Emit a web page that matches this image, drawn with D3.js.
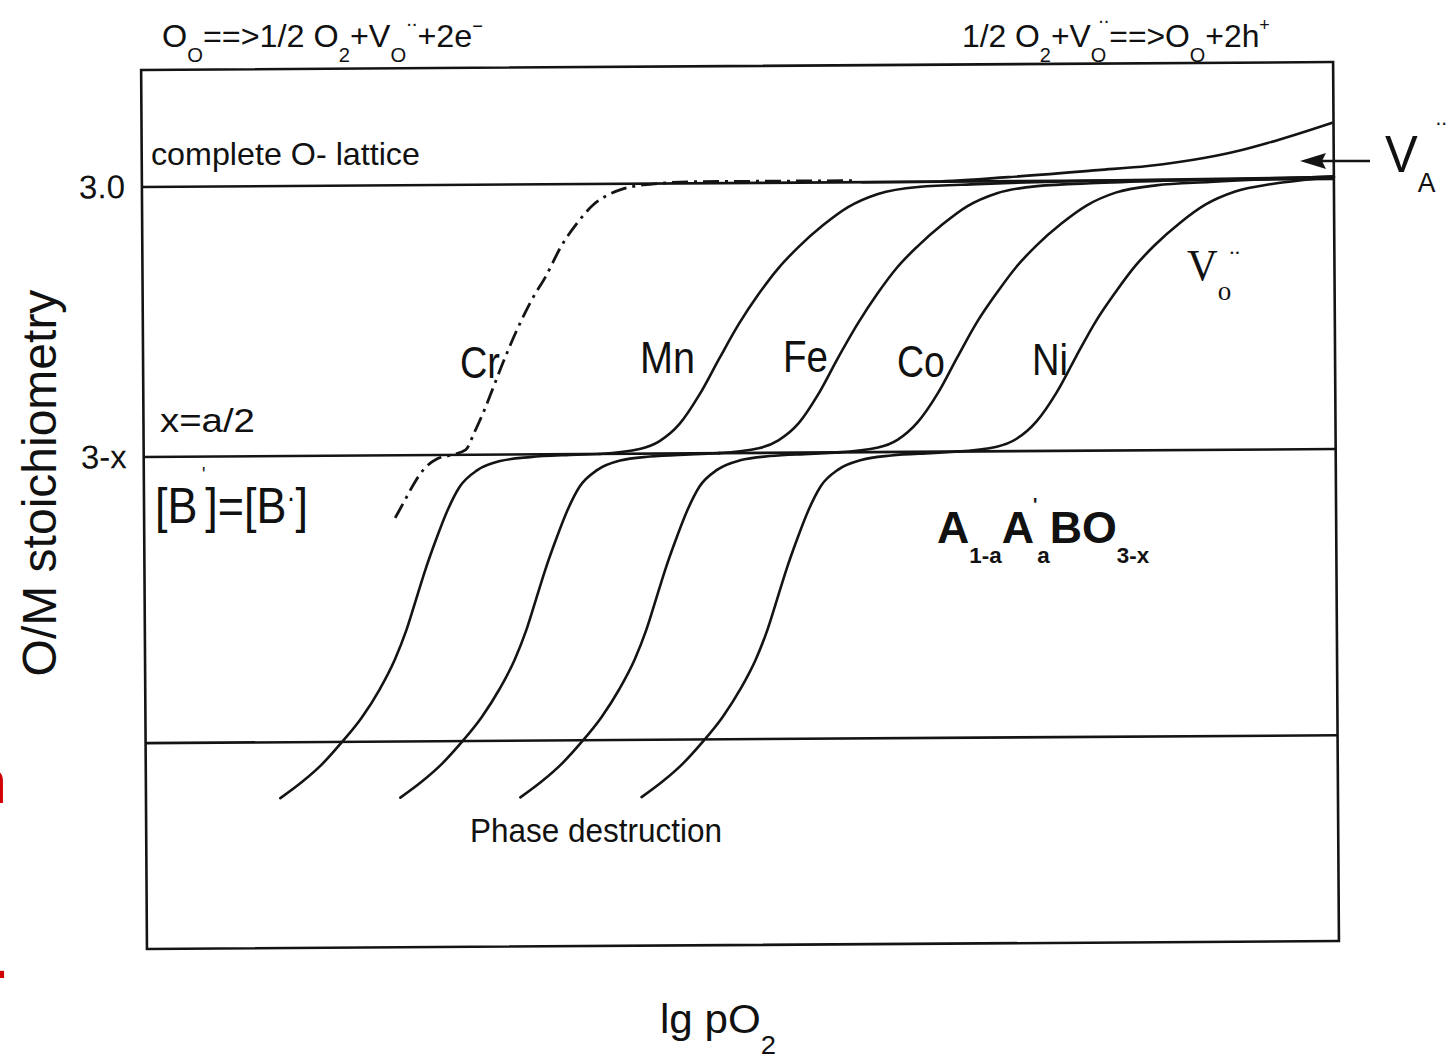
<!DOCTYPE html>
<html>
<head>
<meta charset="utf-8">
<script src="https://cdn.jsdelivr.net/npm/d3@7/dist/d3.min.js"></script>
<style>
  html, body { margin: 0; padding: 0; background: #fff; }
  svg { display: block; }
  text { font-family: "Liberation Sans", Arial, Helvetica, sans-serif; fill: #111; }
</style>
</head>
<body>
<svg id="chart" width="1454" height="1058"></svg>
<script>
// x: lg pO2 (arbitrary units); d: oxygen deficit in units of x (0 = 3.0, 1 = 3-x)
const levelComplete = 0;
const levelBalanced = 1;
const levelDestruction = 2.06;
const yTickValues = [0, 1];
const yTickLabels = ["3.0", "3-x"];

// low-pO2 steps (phase destruction -> 3-x plateau)
const lowerStep1 = [[11.2,2.267],[13.0,2.208],[14.7,2.142],[16.3,2.064],[18.0,1.972],[19.5,1.869],[20.8,1.758],[21.8,1.647],[22.6,1.537],[23.4,1.426],[24.3,1.315],[25.3,1.204],[26.3,1.119],[27.8,1.057],[29.7,1.024],[32.2,1.010],[35.5,1.003],[38.0,1.0]];
const lowerStep2 = [[21.2,2.268],[23.0,2.209],[24.7,2.143],[26.3,2.066],[28.0,1.973],[29.5,1.870],[30.8,1.760],[31.8,1.649],[32.6,1.539],[33.4,1.428],[34.3,1.317],[35.3,1.206],[36.3,1.121],[37.8,1.059],[39.7,1.025],[42.2,1.011],[45.5,1.004],[48.0,1.0]];
const lowerStep3 = [[31.2,2.270],[33.0,2.211],[34.7,2.145],[36.3,2.068],[38.0,1.975],[39.5,1.872],[40.8,1.762],[41.8,1.651],[42.6,1.541],[43.4,1.430],[44.3,1.319],[45.3,1.208],[46.3,1.123],[47.8,1.061],[49.7,1.027],[52.2,1.012],[55.5,1.005],[58.0,1.0]];
const lowerStep4 = [[41.3,2.272],[43.1,2.213],[44.8,2.147],[46.4,2.070],[48.1,1.977],[49.6,1.874],[50.9,1.764],[51.9,1.653],[52.7,1.543],[53.5,1.432],[54.4,1.321],[55.4,1.210],[56.4,1.125],[57.9,1.063],[59.8,1.029],[62.3,1.013],[65.6,1.005],[68.0,1.0]];

// high-pO2 steps (3-x plateau -> complete O lattice), per B cation
const upperMn = [[38.0,1.0],[41.33,0.983],[43.0,0.954],[44.67,0.891],[46.33,0.784],[48.0,0.651],[49.67,0.522],[51.33,0.412],[53.0,0.316],[54.67,0.239],[56.75,0.158],[58.83,0.092],[61.33,0.044],[64.67,0.019],[69.67,0.010],[79.67,0.0],[99.33,-0.006]];
const upperFe = [[47.9,1.0],[51.25,0.983],[52.9,0.954],[54.6,0.891],[56.25,0.784],[57.9,0.651],[59.6,0.522],[61.25,0.412],[62.9,0.316],[64.6,0.239],[66.7,0.158],[68.75,0.092],[71.25,0.044],[74.6,0.019],[79.6,0.009],[88.0,0.0],[99.33,-0.008]];
const upperCo = [[57.8,1.0],[61.2,0.983],[62.85,0.954],[64.5,0.891],[66.2,0.784],[67.85,0.651],[69.5,0.522],[71.2,0.412],[72.85,0.316],[74.5,0.239],[76.6,0.158],[78.7,0.092],[81.2,0.044],[84.5,0.019],[89.0,0.008],[99.33,-0.010]];
const upperNi = [[67.7,1.0],[71.1,0.983],[72.75,0.954],[74.4,0.891],[76.1,0.784],[77.75,0.651],[79.4,0.522],[81.1,0.412],[82.75,0.316],[84.4,0.239],[86.5,0.158],[88.6,0.092],[91.1,0.044],[94.3,0.016],[97.0,0.002],[99.33,-0.008]];

// Cr: dash-dot trace
const crCurve = [[20.92,1.232],[21.75,1.166],[22.58,1.100],[23.42,1.048],[24.42,1.015],[25.67,1.000],[26.83,0.982],[27.58,0.916],[28.42,0.834],[29.25,0.742],[30.08,0.650],[31.17,0.539],[32.42,0.428],[33.67,0.336],[34.83,0.236],[36.33,0.140],[37.58,0.078],[38.83,0.041],[40.08,0.019],[41.75,0.005],[46.33,-0.006],[59.67,-0.006]];

// A-site vacancy branch at high pO2
const vaCurve = [[60.0,0.0],[65.5,0.0],[72.17,-0.015],[79.67,-0.039],[83.83,-0.053],[88.5,-0.081],[91.33,-0.106],[93.83,-0.135],[96.33,-0.168],[99.17,-0.208]];

const metalLabels = ["Cr", "Mn", "Fe", "Co", "Ni"];

const box = { left: 144, right: 1336, top: 66, bottom: 945 };
const x = d3.scaleLinear().domain([0, 99.33]).range([box.left, box.right]);
const y = d3.scaleLinear().domain([-0.4333, 2.8222]).range([box.top, box.bottom]);

const svg = d3.select("#chart");
const ink = "#141414";

// plot body (slightly tilted as in the printed figure)
const plot = svg.append("g").attr("transform", "rotate(-0.38, 740, 500)");

plot.append("rect")
  .attr("x", x(0)).attr("y", y(-0.4333))
  .attr("width", x(99.33) - x(0)).attr("height", y(2.8222) - y(-0.4333))
  .attr("fill", "none").attr("stroke", ink).attr("stroke-width", 2.6);

[levelComplete, levelBalanced, levelDestruction].forEach(v => {
  plot.append("line")
    .attr("x1", x(0)).attr("x2", x(99.33))
    .attr("y1", y(v)).attr("y2", y(v))
    .attr("stroke", ink).attr("stroke-width", 2.6);
});

const line = d3.line().x(d => x(d[0])).y(d => y(d[1])).curve(d3.curveMonotoneX);

[lowerStep1, lowerStep2, lowerStep3, lowerStep4, upperMn, upperFe, upperCo, upperNi, vaCurve].forEach(s => {
  plot.append("path").attr("d", line(s))
    .attr("fill", "none").attr("stroke", ink).attr("stroke-width", 2.6)
    .attr("stroke-linecap", "round");
});

plot.append("path").attr("d", line(crCurve))
  .attr("fill", "none").attr("stroke", ink).attr("stroke-width", 2.8)
  .attr("stroke-dasharray", "16,6,3,6");

const yAxis = d3.axisLeft(y).tickValues(yTickValues)
  .tickFormat((d, i) => yTickLabels[i]).tickSize(0).tickPadding(17);
const ya = plot.append("g").attr("transform", `translate(${x(0)},0)`).call(yAxis);
ya.select(".domain").remove();
ya.selectAll("text").attr("font-family", "Liberation Sans, Arial, sans-serif")
  .style("font-size", "33px").attr("fill", ink);

// ---- text helpers ----
function fit(t, x0, w) {
  const bw = t.node().getBBox().width;
  const s = w / bw;
  t.attr("transform", `translate(${x0},0) scale(${s},1) translate(${-x0},0)`);
}
function rich(g, x0, y0, parts, o) {
  const t = g.append("text").attr("x", x0).attr("y", y0);
  if (o.weight) t.style("font-weight", o.weight);
  if (o.family) t.style("font-family", o.family);
  if (o.fill) t.style("fill", o.fill);
  if (o.anchor) t.attr("text-anchor", o.anchor);
  let cur = 0;
  parts.forEach(p => {
    const [s, size, off, dx] = p;
    const ts = t.append("tspan").text(s).attr("dy", off - cur).style("font-size", size + "px");
    if (dx) ts.attr("dx", dx);
    cur = off;
  });
  if (o.width) fit(t, x0, o.width);
  return t;
}

const ann = svg.append("g");

rich(ann, 162, 47, [["O",32,0],["O",20,15],["==>1/2 O",32,0],["2",20,15],["+V",32,0],["O",20,15],["..",20,-21],["+2e",32,0],["\u2212",18,-15]], { width: 321 });
rich(ann, 962, 47, [["1/2 O",32,0],["2",20,15],["+V",32,0],["O",20,15],["..",20,-24,-8],["==>O",32,0],["O",20,15],["+2h",32,0],["+",18,-16]], { width: 308 });

rich(ann, 151, 165, [["complete O- lattice",32,0]], { width: 269 });
rich(ann, 160, 432, [["x=a/2",34,0]], { width: 95 });
rich(ann, 155, 523, [["[B",50,0],["'",20,-42,5],["]=[B",50,0],["\u00b7",30,-16],["]",50,0]], { width: 153 });

const labelPos = [[460,378,40],[640,373,55],[783,372,45],[897,377,48],[1032,375,36]];
metalLabels.forEach((m, i) => {
  rich(ann, labelPos[i][0], labelPos[i][1], [[m,44,0]], { width: labelPos[i][2] });
});

rich(ann, 470, 842, [["Phase destruction",33,0]], { width: 252 });

rich(ann, 937, 543, [["A",44,0],["1-a",22,20],["A",44,0],["'",18,-32,-1],["a",22,20],["BO",44,0],["3-x",22,20]], { weight: "bold", width: 213 });

rich(ann, 1187, 280, [["V",44,0],["o",28,20],["..",22,-26,-2]], { family: "Liberation Serif, Times New Roman, serif", width: 53 });

rich(ann, 1385, 172, [["V",52,0],["A",28,20],["..",22,-47]], { width: 62 });

// arrow pointing at the V_A branch
ann.append("line").attr("x1", 1370).attr("x2", 1318).attr("y1", 161).attr("y2", 161)
  .attr("stroke", ink).attr("stroke-width", 2.6);
ann.append("path").attr("d", "M1300,161 L1326,153 L1322,161 L1326,169 Z").attr("fill", ink);

// axis titles
ann.append("text").attr("transform", "translate(56,483) rotate(-90)")
  .attr("text-anchor", "middle").style("font-size", "48px").text("O/M stoichiometry");
rich(ann, 660, 1033, [["lg pO",40,0],["2",26,21]], { width: 116 });

// clipped fragments at the left margin
ann.append("text").attr("x", 7).attr("y", 803).attr("text-anchor", "end")
  .style("font-size", "62px").style("fill", "#d10000").text("n");
ann.append("text").attr("x", 10).attr("y", 978).attr("text-anchor", "end")
  .style("font-size", "66px").style("fill", "#d10000").text(".");
</script>
</body>
</html>
